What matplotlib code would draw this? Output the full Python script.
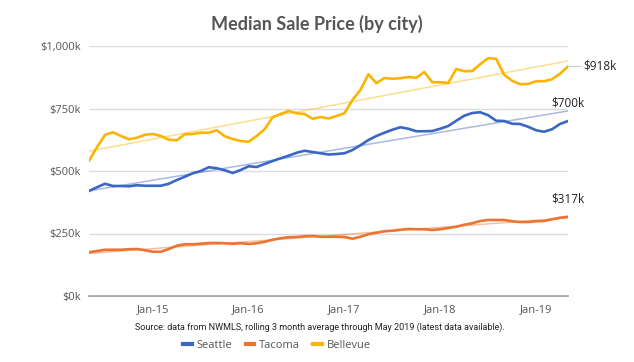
import numpy as np
import matplotlib
matplotlib.use("Agg")
import matplotlib.pyplot as plt

plt.rcParams['font.family'] = ['Open Sans', 'DejaVu Sans']

# Monthly, May 2014 .. May 2019 (values in $k)
months = [f"{m}-{y}" for y in range(14, 20) for m in
          ["Jan", "Feb", "Mar", "Apr", "May", "Jun", "Jul", "Aug", "Sep", "Oct", "Nov", "Dec"]][4:65]

seattle = [420, 435, 449, 440, 440, 439, 443, 441, 441, 441, 449, 464, 477, 491, 500, 515,
           511, 503, 492, 504, 519, 516, 528, 540, 551, 561, 573, 581, 576, 571, 566, 568,
           571, 584, 603, 624, 640, 653, 665, 675, 669, 659, 659, 660, 669, 680, 701, 721,
           732, 735, 723, 701, 700, 689, 688, 677, 663, 657, 667, 688, 700]
tacoma = [175, 180, 185, 185, 185, 187, 188, 183, 177, 177, 188, 201, 207, 207, 209, 212,
          212, 211, 209, 211, 208, 211, 217, 225, 231, 235, 236, 239, 240, 237, 237, 237,
          236, 229, 237, 247, 253, 259, 261, 265, 268, 267, 267, 264, 267, 272, 277, 285,
          291, 300, 304, 304, 304, 299, 296, 296, 299, 300, 307, 313, 317]
bellevue = [541, 595, 644, 655, 640, 627, 633, 645, 648, 640, 625, 623, 647, 648, 653, 653,
            663, 639, 628, 620, 617, 640, 667, 715, 728, 740, 731, 728, 709, 716, 710, 720,
            731, 784, 824, 887, 851, 872, 869, 871, 876, 873, 896, 855, 855, 852, 908, 899,
            900, 927, 951, 949, 885, 861, 847, 848, 859, 859, 867, 889, 918]

series_names = ["Seattle", "Tacoma", "Bellevue"]
series_vals = [seattle, tacoma, bellevue]
colors = ["#3a66c4", "#ec7330", "#fbb404"]
end_labels = ["$700k", "$317k", "$918k"]

y_ticks = [0, 250, 500, 750, 1000]
y_tick_labels = ["$0k", "$250k", "$500k", "$750k", "$1,000k"]
x_tick_labels = ["Jan-15", "Jan-16", "Jan-17", "Jan-18", "Jan-19"]

fig = plt.figure(figsize=(6.34, 3.62), dpi=100)
ax = fig.add_axes([89/634, 1-296/362, (568-89)/634, (296-46)/362])

x = np.arange(len(months))
for name, vals, c in zip(series_names, series_vals, colors):
    v = np.array(vals, dtype=float)
    k, b = np.polyfit(x, v, 1)
    ax.plot(x, k*x + b, color=c, lw=1.1, alpha=0.45, zorder=2, solid_capstyle='butt')
for name, vals, c in zip(series_names, series_vals, colors):
    ax.plot(x, vals, color=c, lw=1.9, label=name, zorder=3, solid_joinstyle='round')

# end labels
for name, vals, lab in zip(series_names, series_vals, end_labels):
    if name == "Bellevue":
        ax.annotate(lab, xy=(x[-1], vals[-1]), xytext=(11, 0), textcoords='offset points',
                    ha='left', va='center', fontsize=8.5, color='#222222',
                    arrowprops=dict(arrowstyle='-', color='#cccccc', lw=0.8,
                                    shrinkA=0, shrinkB=0), annotation_clip=False)
    else:
        ax.annotate(lab, xy=(x[-1], vals[-1]), xytext=(0, 13), textcoords='offset points',
                    ha='center', va='center', fontsize=8.5, color='#222222',
                    annotation_clip=False)

ax.set_xlim(0, len(months) - 1)
ax.set_ylim(0, 1000)
ax.set_yticks(y_ticks)
ax.set_yticklabels(y_tick_labels)
ax.set_xticks([months.index(l) for l in x_tick_labels])
ax.set_xticklabels(x_tick_labels)
ax.tick_params(axis='both', length=0, labelsize=8, labelcolor='#555555')
ax.tick_params(axis='y', pad=6)
ax.tick_params(axis='x', pad=6)
ax.grid(axis='y', color='#dcdcdc', lw=1.0, zorder=0)
for s in ['top', 'right', 'left']:
    ax.spines[s].set_visible(False)
ax.spines['bottom'].set_color('#999999')
ax.spines['bottom'].set_linewidth(1.2)
ax.spines['bottom'].set_zorder(1)

fig.text(317/634, 1-24/362, "Median Sale Price (by city)", ha='center', va='center',
         fontsize=13, fontweight='bold', color='#555555', family=['Lato', 'DejaVu Sans'])
fig.text(320/634, 1-327/362,
         "Source: data from NWMLS, rolling 3 month average through May 2019 (latest data available).",
         ha='center', va='center', fontsize=6.5, color='#222222', family=['Roboto', 'DejaVu Sans'])

leg = fig.legend(loc='center', bbox_to_anchor=(277/634, 1-345/362), ncol=3, frameon=False,
                 fontsize=8, handlelength=0.75, handletextpad=0.45, columnspacing=1.2)
for h in leg.legend_handles:
    h.set_linewidth(3)
for t in leg.get_texts():
    t.set_color('#555555')

fig.savefig("out.png", dpi=100)
